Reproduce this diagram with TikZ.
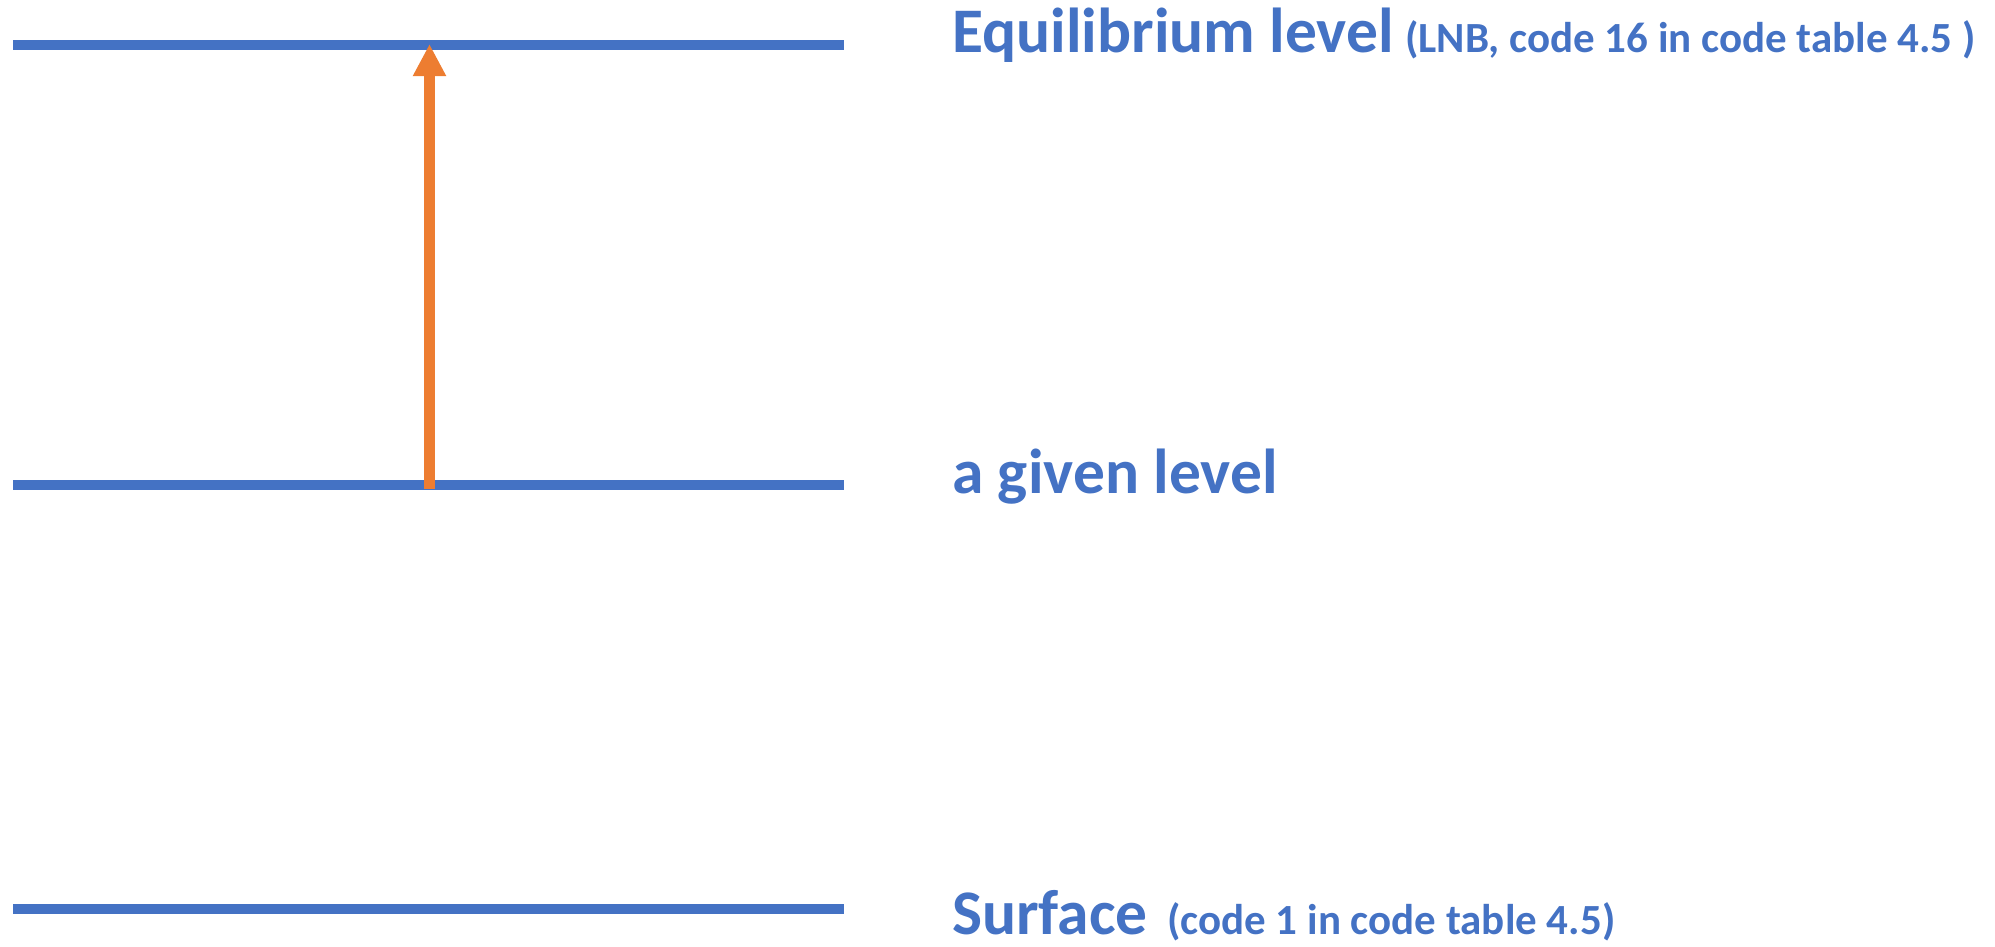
\documentclass[tikz,border=0pt]{standalone}
\usepackage{fontspec}
\setmainfont{Carlito}
\usetikzlibrary{arrows.meta}
\definecolor{lvlblue}{HTML}{4472C4}
\definecolor{arrorange}{HTML}{ED7D31}
\tikzset{
  level/.style={draw=lvlblue, line width=10pt},
  lbl/.style={anchor=base west, inner sep=0pt, text=lvlblue, font=\bfseries\fontsize{63.5}{76}\selectfont},
  sublbl/.style={anchor=base west, inner sep=0pt, text=lvlblue, font=\bfseries\fontsize{43}{52}\selectfont},
  rise/.style={draw=arrorange, line width=10.5pt, -{Triangle[width=31pt,length=32pt]}}
}
\begin{document}
\begin{tikzpicture}[x=1pt,y=-1pt]
\useasboundingbox (0,0) rectangle (1995,946);
\coordinate (eqL) at (13,44.5);
\coordinate (eqR) at (844,44.5);
\coordinate (gvL) at (13,485);
\coordinate (gvR) at (844,485);
\coordinate (sfL) at (13,908.5);
\coordinate (sfR) at (844,908.5);
\coordinate (arrS) at (429.5,489);
\coordinate (arrE) at (429.5,44);
\draw[level] (eqL) -- (eqR);
\draw[level] (gvL) -- (gvR);
\draw[level] (sfL) -- (sfR);
\draw[rise] (arrS) -- (arrE);
\node[lbl] (eqt) at (952,52) {Equilibrium level};
\node[sublbl] (eqs) at (1405,52) {(LNB, code 16 in code table 4.5 )};
\node[lbl] (gvt) at (952,493) {a given level};
\node[lbl] (sft) at (952,934) {Surface};
\node[sublbl] (sfs) at (1167,934) {(code 1 in code table 4.5)};
\end{tikzpicture}
\end{document}
